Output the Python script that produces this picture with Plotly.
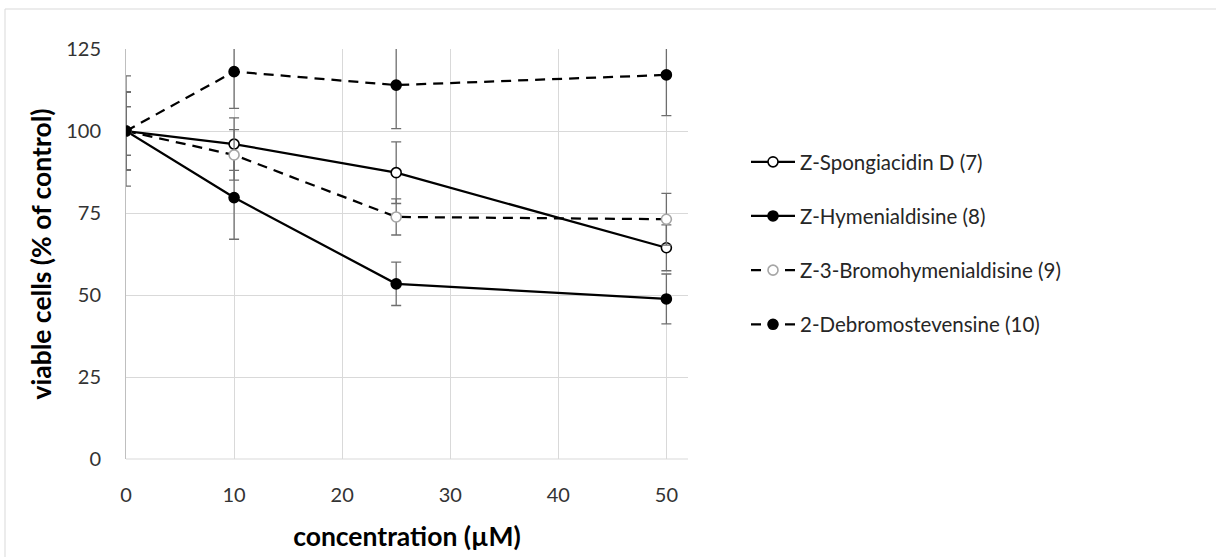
import plotly.graph_objects as go

conc = [0, 10, 25, 50]

names = ["Z-Spongiacidin D (7)", "Z-Hymenialdisine (8)",
         "Z-3-Bromohymenialdisine (9)", "2-Debromostevensine (10)"]

spongiacidin = [100, 96.0, 87.3, 64.4]
spongiacidin_err = [16.8, 8.0, 9.4, 7.0]

hymenialdisine = [100, 79.7, 53.4, 48.8]
hymenialdisine_err = [11.8, 12.7, 6.6, 7.6]

bromohymenialdisine = [100, 92.7, 73.8, 73.1]
bromohymenialdisine_err = [7.4, 7.7, 5.5, 7.9]

debromostevensine = [100, 118.1, 114.0, 117.1]
debromostevensine_err = [12.0, 11.2, 13.3, 12.4]

series = [
    (names[0], spongiacidin, spongiacidin_err, "solid", "white", "black"),
    (names[1], hymenialdisine, hymenialdisine_err, "solid", "black", "black"),
    (names[2], bromohymenialdisine, bromohymenialdisine_err, "10px,7px", "white", "#a6a6a6"),
    (names[3], debromostevensine, debromostevensine_err, "10px,7px", "black", "black"),
]

FONT = "Lato, 'Open Sans', sans-serif"

fig = go.Figure()
for i, (name, vals, err, dash, fill, edge) in enumerate(series):
    fig.add_trace(go.Scatter(
        x=conc, y=vals, name=name, mode="lines+markers",
        legendgroup=f"g{i}",
        line=dict(color="black", width=2.25, dash=dash),
        marker=dict(symbol="circle", size=10, color=fill,
                    line=dict(color=edge, width=1.6)),
        error_y=dict(type="data", array=err, visible=True,
                     color="#6e6e6e", thickness=1.3, width=5),
    ))

L, R, T, B = 126, 688, 49, 459
W, H = 1216, 557
pw, ph = R - L, B - T

def px_x(p):
    return (p - L) / pw

def px_y(p):
    return (B - p) / ph

fig.update_layout(
    width=W, height=H,
    margin=dict(l=L, r=W - R, t=T, b=H - B, autoexpand=False),
    paper_bgcolor="white", plot_bgcolor="white",
    font=dict(family=FONT, size=20, color="#262626"),
    showlegend=True,
    legend=dict(x=px_x(746), y=px_y(142), xanchor="left", yanchor="top",
                font=dict(size=20.5, color="#262626"),
                tracegroupgap=24.5, traceorder="grouped",
                itemwidth=44, bgcolor="rgba(0,0,0,0)"),
    xaxis=dict(range=[0, 52.0], tickvals=[0, 10, 20, 30, 40, 50],
               showgrid=True, gridcolor="#d9d9d9", gridwidth=1,
               zeroline=False, showline=False, ticks="",
               ticklabelstandoff=22,
               tickfont=dict(size=20, color="#333333"),
               title=dict(text="<b>concentration (µM)</b>",
                          font=dict(size=26.5, color="black"), standoff=22)),
    yaxis=dict(range=[0, 125], tickvals=[0, 25, 50, 75, 100, 125],
               showgrid=True, gridcolor="#d9d9d9", gridwidth=1,
               zeroline=False, showline=True, linecolor="#bfbfbf", linewidth=1,
               ticks="", ticklabelstandoff=20,
               tickfont=dict(size=20, color="#333333"),
               title=dict(text="<b>viable cells (% of control)</b>",
                          font=dict(size=26.5, color="black"), standoff=6)),
)

# bottom horizontal axis baseline
fig.add_shape(type="line", xref="paper", yref="paper",
              x0=0, x1=1, y0=0, y1=0, line=dict(color="#d9d9d9", width=1))

# chart-area border
fig.add_shape(type="rect", xref="paper", yref="paper",
              x0=px_x(5), x1=px_x(1240), y0=px_y(9), y1=px_y(600),
              line=dict(color="#d9d9d9", width=1), layer="below")

fig.write_html("out.html")
